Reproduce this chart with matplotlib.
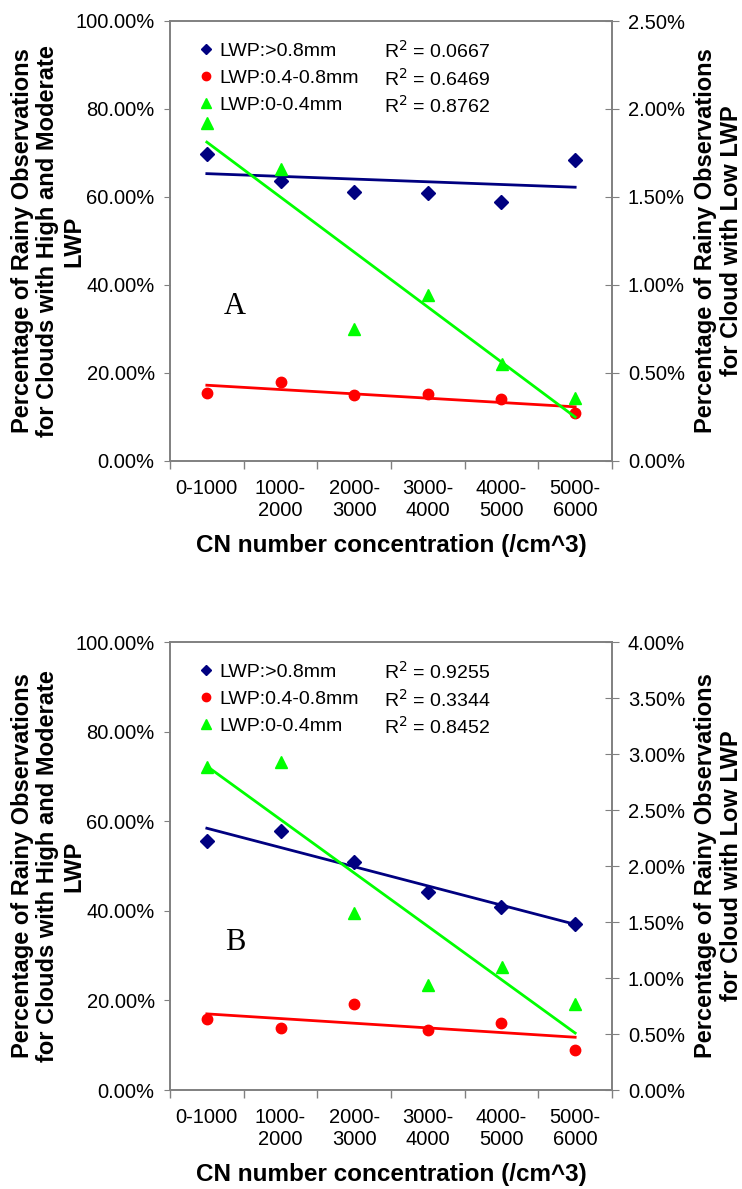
import numpy as np
import matplotlib
matplotlib.use("Agg")
import matplotlib.pyplot as plt
from matplotlib.ticker import FixedLocator, NullFormatter

plt.rcParams['font.family'] = ['Liberation Sans', 'DejaVu Sans']

categories = ["0-1000", "1000-\n2000", "2000-\n3000", "3000-\n4000", "4000-\n5000", "5000-\n6000"]
series_names = ["LWP:>0.8mm", "LWP:0.4-0.8mm", "LWP:0-0.4mm"]

# panel A (left axis in %, green on right axis in %)
a_high = [69.8, 63.6, 61.1, 60.9, 58.8, 68.4]
a_mod = [15.5, 18.0, 14.9, 15.2, 14.1, 10.9]
a_low = [1.92, 1.66, 0.75, 0.945, 0.55, 0.36]
a_r2 = ["0.0667", "0.6469", "0.8762"]

# panel B
b_high = [55.5, 57.9, 50.8, 44.1, 40.9, 37.0]
b_mod = [15.8, 13.9, 19.2, 13.4, 15.0, 9.0]
b_low = [2.88, 2.93, 1.58, 0.94, 1.10, 0.77]
b_r2 = ["0.9255", "0.3344", "0.8452"]

W, H = 742, 1189
fig = plt.figure(figsize=(W / 100, H / 100), dpi=100)

GREY = "#808080"


def trend(x, y):
    k, b = np.polyfit(x, y, 1)
    return k * np.asarray(x) + b


def panel(top, bottom, high, mod, low, r2, rmax, rticks, letter, letter_y):
    ax = fig.add_axes([170 / W, (H - bottom) / H, 442 / W, (bottom - top) / H])
    ax2 = ax.twinx()
    x = np.arange(1, 7)

    ax.plot(x, trend(x, high), color="#000080", lw=2, zorder=2)
    ax.plot(x, trend(x, mod), color="#ff0000", lw=2, zorder=2)
    ax2.plot(x, trend(x, low), color="#00ff00", lw=2, zorder=2)
    h1, = ax.plot(x, high, ls="none", marker="D", ms=7, color="#000080", label=series_names[0])
    h2, = ax.plot(x, mod, ls="none", marker="o", ms=7.5, color="#ff0000", label=series_names[1])
    h3, = ax2.plot(x, low, ls="none", marker="^", ms=8.5, color="#00ff00", label=series_names[2])

    ax.set_xlim(0.5, 6.5)
    ax.set_ylim(0, 100)
    ax2.set_ylim(0, rmax)
    ax.set_yticks(np.arange(0, 101, 20))
    ax.set_yticklabels([f"{v:.2f}%" for v in np.arange(0, 101, 20)])
    ax2.set_yticks(rticks)
    ax2.set_yticklabels([f"{v:.2f}%" for v in rticks])

    ax.xaxis.set_major_locator(FixedLocator(np.arange(0.5, 6.6, 1)))
    ax.xaxis.set_major_formatter(NullFormatter())
    ax.xaxis.set_minor_locator(FixedLocator(x))
    ax.set_xticklabels(categories, minor=True)
    ax.tick_params(axis="x", which="major", direction="out", length=6, color=GREY, width=1)
    ax.tick_params(axis="x", which="minor", length=0, labelsize=14.5, pad=13)
    ax.tick_params(axis="y", direction="out", length=4.5, color=GREY, labelsize=14.5, pad=6.5)
    ax2.tick_params(axis="y", direction="inout", length=10, color=GREY, labelsize=14.5, pad=6.5)

    for a in (ax, ax2):
        for s in a.spines.values():
            s.set_color(GREY)
            s.set_linewidth(1.2)

    ax.set_ylabel("Percentage of Rainy Observations\nfor Clouds with High and Moderate\nLWP",
                  fontsize=17, fontweight="bold", linespacing=1.15)
    ax.yaxis.set_label_coords(-0.192, 0.5)
    ax2.set_ylabel("Percentage of Rainy Observations\nfor Cloud with Low LWP",
                   fontsize=17, fontweight="bold", linespacing=1.15)
    ax2.yaxis.set_label_coords(1.186, 0.5)
    ax.set_xlabel("CN number concentration (/cm^3)", fontsize=17.5, fontweight="bold", labelpad=10)

    leg = ax2.legend(handles=[h1, h2, h3], loc="upper left", bbox_to_anchor=(0.03, 0.99),
                     frameon=False, fontsize=14, handlelength=0.6, handletextpad=0.4,
                     labelspacing=0.5, borderaxespad=0.45, markerscale=0.8)
    fig.canvas.draw()
    inv = ax2.transAxes.inverted()
    for t, r in zip(leg.get_texts(), r2):
        bb = t.get_window_extent()
        yc = inv.transform((0, (bb.y0 + bb.y1) / 2))[1]
        ax2.text(0.485, yc, "R$^2$ = " + r, transform=ax2.transAxes, fontsize=14, va="center")
    ax.text(0.147, letter_y, letter, transform=ax.transAxes,
            fontsize=22, family="Liberation Serif", va="center", ha="center")
    return ax


panel(21, 461, a_high, a_mod, a_low, a_r2, 2.5, np.arange(0, 2.51, 0.5), "A", 0.35)
panel(642, 1090, b_high, b_mod, b_low, b_r2, 4.0, np.arange(0, 4.01, 0.5), "B", 0.33)

fig.savefig("out.png", dpi=100)
